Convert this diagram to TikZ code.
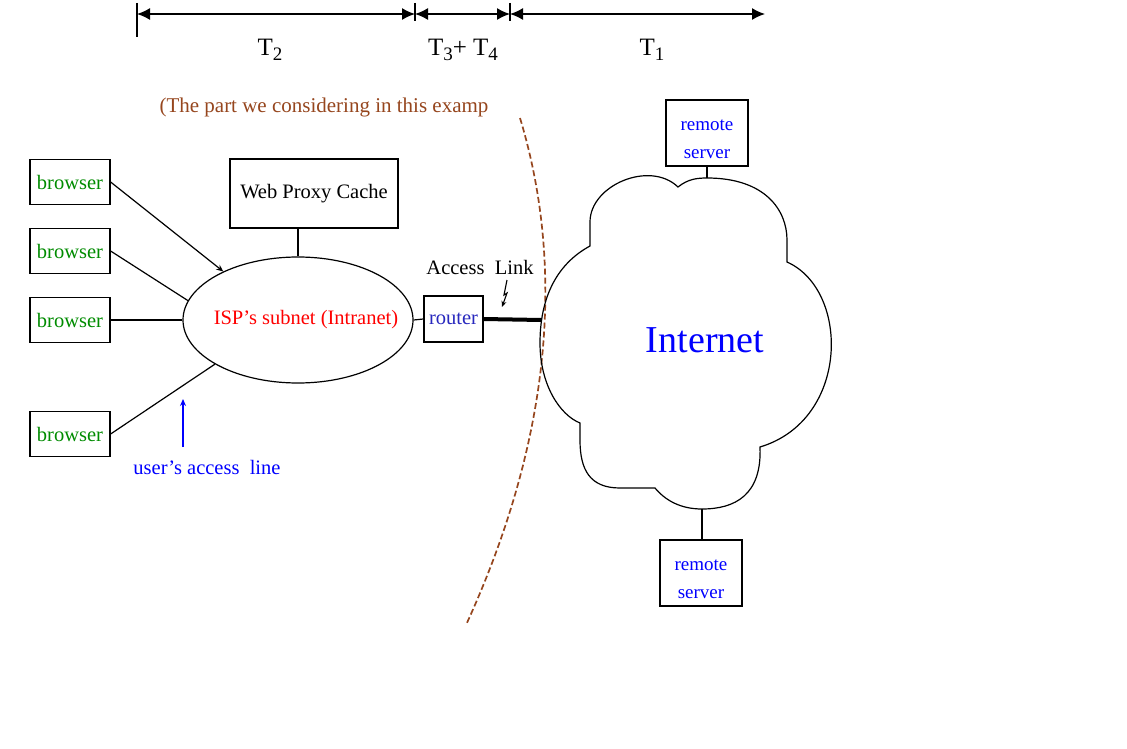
\documentclass[tikz,border=0pt]{standalone}
\usepackage{fontspec}
\setmainfont{Liberation Serif}
\usetikzlibrary{arrows.meta,shapes.geometric}
\definecolor{brn}{RGB}{150,70,30}
\definecolor{grn}{RGB}{0,140,0}
\definecolor{rtr}{RGB}{40,40,190}
\newcommand{\tsub}[1]{\raisebox{-0.45ex}{\fontsize{19}{19}\selectfont #1}}
\tikzset{
  box/.style={draw, line width=1.2pt, inner sep=0pt},
  brw/.style={box, minimum width=80, minimum height=45, text=grn},
  srv/.style={box, minimum width=82, minimum height=66},
  srvtxt/.style={text=blue, align=center, font=\fontsize{19}{28}\selectfont, yshift=-6.5pt},
  conn/.style={line width=1.2pt},
  tarr/.style={line width=1.4pt, {Latex[length=13pt,width=12pt]}-{Latex[length=13pt,width=12pt]}},
  tl/.style={font=\fontsize{25}{27}\selectfont},
}
\begin{document}
\begin{tikzpicture}[x=1pt,y=-1pt, font=\fontsize{20.5}{24}\selectfont]
\useasboundingbox[fill=white] (0,0) rectangle (1127,749);

% timeline
\coordinate (t0) at (137,14);
\coordinate (t1) at (415,14);
\coordinate (t2) at (510,14);
\coordinate (t3) at (765,14);
\coordinate (t0a) at (137,3); \coordinate (t0b) at (137,37);
\coordinate (t1a) at (415,3); \coordinate (t1b) at (415,21);
\coordinate (t2a) at (510,3); \coordinate (t2b) at (510,21);
\draw[line width=1.4pt] (t0a) -- (t0b);
\draw[line width=1.2pt] (t1a) -- (t1b);
\draw[line width=1.2pt] (t2a) -- (t2b);
\draw[tarr] (t0) -- (t1);
\draw[tarr] (t1) -- (t2);
\draw[tarr] (t2) -- (t3);
\node[tl] (T2) at (270,50) {T\tsub{2}};
\node[tl] (T34) at (463,50) {T\tsub{3}+ T\tsub{4}};
\node[tl] (T1) at (652,50) {T\tsub{1}};

% comment
\node[anchor=west, text=brn, font=\fontsize{21}{24}\selectfont] (cmt) at (156,107) {(The part we considering in this examp};

% dashed boundary
\coordinate (d0) at (520,118);
\coordinate (d1) at (466,625);
\draw[brn, line width=1.7pt, dash pattern=on 6pt off 3pt] (d0) .. controls (560,250) and (560,420) .. (d1);

% browsers
\node[brw] (b1) at (70,182) {browser};
\node[brw] (b2) at (70,251) {browser};
\node[brw] (b3) at (70,320) {browser};
\node[brw] (b4) at (70,434) {browser};

% proxy
\node[box, minimum width=168, minimum height=69] (proxy) at (314,193.5) {Web Proxy Cache};

% ISP ellipse
\node[draw, ellipse, line width=1.2pt, inner sep=0pt, minimum width=230, minimum height=126] (isp) at (298,320) {};
\node[text=red] (isptxt) at (306,320) {ISP’s subnet (Intranet)};

\draw[conn] (isp.north) -- (isp.north |- proxy.south);
\draw[conn, -{Stealth[length=7pt,width=6pt]}] (b1.east) -- (isp.147);
\draw[conn] (b2.east) -- (isp.170);
\draw[conn] (b3.east) -- (isp.west);
\draw[conn] (b4.east) -- (isp.208);

% user's access line
\node[text=blue] (ual) at (207,467) {user’s access\ \ line};
\coordinate (ua0) at (183,447);
\coordinate (ua1) at (183,399);
\draw[blue, line width=1.5pt, -{Stealth[length=7pt,width=6pt]}] (ua0) -- (ua1);

% router
\node[box, minimum width=59, minimum height=46, text=rtr] (router) at (453.5,319) {router};
\draw[conn] (isp.east) -- (router.west);

% access link
\node (al) at (480,267) {Access\ \ Link};
\coordinate (z0) at (507,280);
\coordinate (z1) at (504,295);
\coordinate (z2) at (507,293);
\coordinate (z3) at (502,307);
\draw[line width=1.1pt, -{Stealth[length=6pt,width=5pt]}] (z0) -- (z1) -- (z2) -- (z3);

% cloud
\coordinate (ctop) at (707,178);
\coordinate (cbot) at (702,509);
\coordinate (cl) at (541.5,320);
\draw[line width=1.2pt] (590,246) -- (590,222) .. controls (590,185) and (650,160) .. (678,187)
  .. controls (688,179) and (697,178) .. (ctop)
  .. controls (765,178) and (787,210) .. (787,240) -- (787,262)
  .. controls (850,290) and (850,420) .. (760,447)
  .. controls (762,495) and (735,509) .. (cbot)
  .. controls (680,509) and (665,500) .. (655,488)
  -- (620,488) .. controls (590,488) and (580,470) .. (580,440) -- (580,423)
  .. controls (560,415) and (540,385) .. (540,343)
  .. controls (540,300) and (555,265) .. (590,246) -- cycle;
\node[text=blue, font=\fontsize{38}{40}\selectfont] (inet) at (705,340) {Internet};

\draw[line width=4pt] (router.east) -- (cl);

% remote servers
\node[srv, label={[srvtxt]center:remote\\server}] (s1) at (707,133) {};
\node[srv, label={[srvtxt]center:remote\\server}] (s2) at (701,573) {};
\draw[conn] (s1.south) -- (ctop);
\draw[conn] (cbot) -- (cbot |- s2.north);
\end{tikzpicture}
\end{document}
